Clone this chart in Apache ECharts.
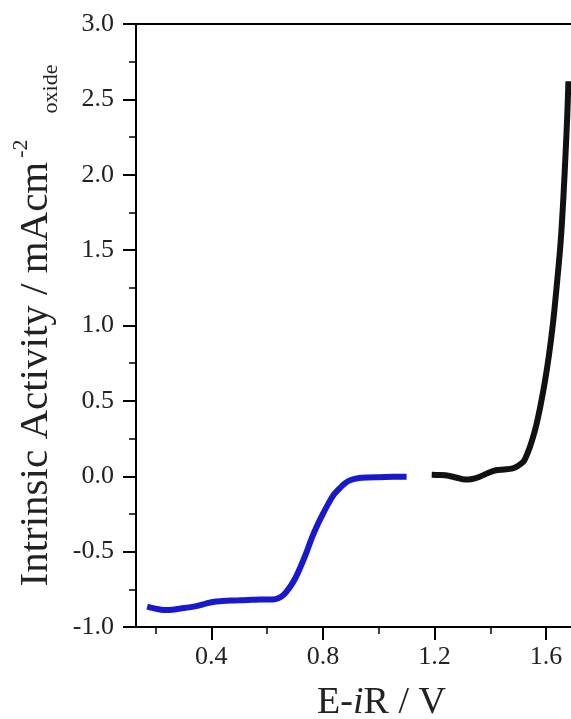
<!DOCTYPE html>
<html><head><meta charset="utf-8">
<script src="https://cdn.jsdelivr.net/npm/echarts@6/dist/echarts.min.js"></script>
<style>html,body{margin:0;padding:0;background:#fff}#c{width:571px;height:719px}</style>
</head><body><div id="c"></div>
<script>
// Blue branch (cathodic scan)
const blueX = [0.17,0.20,0.23,0.26,0.29,0.32,0.35,0.38,0.41,0.44,0.47,0.50,0.53,0.56,0.59,0.62,0.64,0.66,0.68,0.70,0.72,0.74,0.76,0.78,0.80,0.82,0.84,0.86,0.88,0.90,0.93,0.96,1.00,1.05,1.10];
const blueY = [-0.865,-0.878,-0.887,-0.885,-0.877,-0.870,-0.860,-0.845,-0.832,-0.828,-0.825,-0.823,-0.821,-0.819,-0.817,-0.818,-0.810,-0.785,-0.740,-0.680,-0.600,-0.510,-0.410,-0.325,-0.250,-0.180,-0.120,-0.080,-0.045,-0.025,-0.012,-0.008,-0.006,-0.004,-0.003];
// Black branch (anodic scan)
const blackX = [1.19,1.22,1.25,1.28,1.31,1.33,1.36,1.39,1.42,1.45,1.48,1.50,1.52,1.535,1.55,1.565,1.58,1.595,1.61,1.625,1.64,1.652,1.662,1.670,1.676,1.680];
const blackY = [0.010,0.008,0.003,-0.010,-0.022,-0.020,-0.005,0.020,0.040,0.045,0.052,0.070,0.100,0.160,0.240,0.340,0.470,0.620,0.800,1.020,1.300,1.550,1.850,2.150,2.400,2.620];
const xMajorTicks = [0.4,0.8,1.2,1.6];
const xMinorTicks = [0.2,0.6,1.0,1.4];

const FONT = 'Liberation Serif';
const zip = (xs, ys) => xs.map((x, i) => [x, ys[i]]);
const chart = echarts.init(document.getElementById('c'), null, {renderer: 'canvas'});
const axisLineStyle = {color: '#000', width: 2};
chart.setOption({
  animation: false,
  backgroundColor: '#fff',
  grid: {left: 136, top: 24, right: -3, bottom: 92, outerBoundsMode: 'none', containLabel: false, show: true, borderColor: '#000', borderWidth: 2, backgroundColor: 'transparent'},
  xAxis: [
    {
      type: 'value', min: 0.13, max: 1.7, position: 'bottom',
      axisLine: {show: true, onZero: false, lineStyle: axisLineStyle},
      axisTick: {show: true, customValues: xMajorTicks, length: 13, lineStyle: {color: '#000', width: 2}},
      axisLabel: {customValues: xMajorTicks, formatter: v => v.toFixed(1), fontFamily: FONT, fontSize: 26, color: '#222', margin: 17},
      splitLine: {show: false},
      name: '{a|E-}{i|i}{a|R / V}', nameLocation: 'middle', nameGap: 57,
      nameTextStyle: {padding: [0, 0, 0, 53], rich: {
        a: {fontFamily: FONT, fontSize: 38, color: '#222'},
        i: {fontFamily: FONT, fontSize: 38, fontStyle: 'italic', color: '#222'}
      }}
    },
    {
      type: 'value', min: 0.13, max: 1.7, position: 'top', offset: -603,
      axisLine: {show: false, onZero: false},
      axisTick: {show: true, inside: true, customValues: xMinorTicks, length: 7, lineStyle: {color: '#000', width: 1.5}},
      axisLabel: {show: false}, splitLine: {show: false}
    }
  ],
  yAxis: {
    type: 'value', min: -1, max: 3, interval: 0.5,
    axisLine: {show: true, onZero: false, lineStyle: axisLineStyle},
    axisTick: {show: true, length: 13, lineStyle: {color: '#000', width: 2}},
    minorTick: {show: true, splitNumber: 2, length: 7, lineStyle: {color: '#000', width: 1.5}},
    axisLabel: {formatter: v => v.toFixed(1), fontFamily: FONT, fontSize: 26, color: '#222', margin: 22},
    splitLine: {show: false}, minorSplitLine: {show: false},
    name: '{m|Intrinsic Activity / mAcm}{sup|-2}{sub|oxide}',
    nameLocation: 'middle', nameRotate: 90, nameGap: 69,
    nameTextStyle: {rich: {
      m: {fontFamily: FONT, fontSize: 41, lineHeight: 52, color: '#222'},
      sup: {fontFamily: FONT, fontSize: 22, lineHeight: 22, verticalAlign: 'top', color: '#222', padding: [0, 0, 4, 4]},
      sub: {fontFamily: FONT, fontSize: 22, lineHeight: 22, verticalAlign: 'bottom', color: '#222', padding: [0, 0, 0, 26]}
    }}
  },
  series: [
    {type: 'line', xAxisIndex: 0, data: zip(blueX, blueY), showSymbol: false, smooth: 0.3, lineStyle: {color: '#1818cc', width: 6}, z: 3},
    {type: 'line', xAxisIndex: 0, data: zip(blackX, blackY), showSymbol: false, smooth: 0.3, lineStyle: {color: '#111', width: 6}, z: 3}
  ]
});
</script>
</body></html>
